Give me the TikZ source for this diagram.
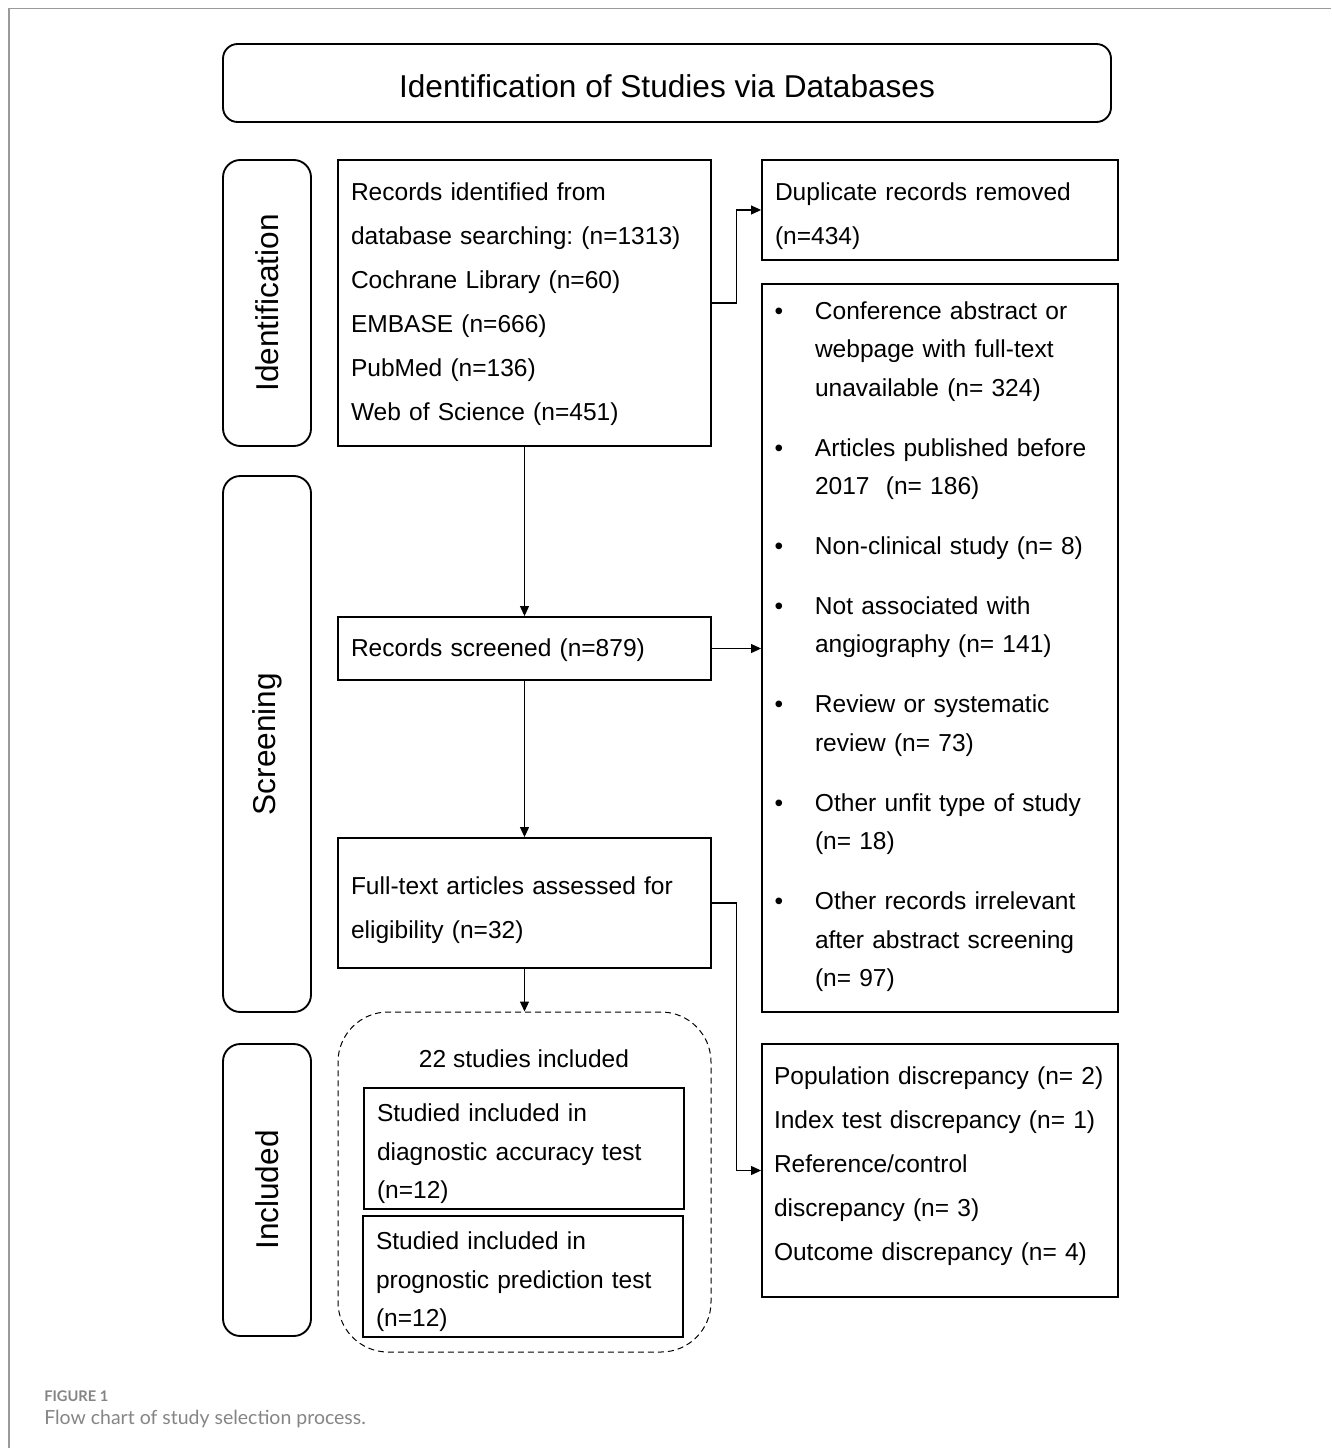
\documentclass[tikz,border=0pt]{standalone}
\usepackage{fontspec}
\setmainfont{Liberation Sans}
\newfontfamily\capfont{Lato}
\usetikzlibrary{arrows.meta}
\definecolor{framegray}{HTML}{9A9A9A}
\definecolor{capgray}{HTML}{858585}
\frenchspacing
\newcommand\bul{\leavevmode\llap{\textbullet\hspace{23.8pt}}}
\newcommand\fst[1]{\rule{0pt}{#1}}
\newcommand\lst[1]{\rule[-#1]{0pt}{#1}}
\begin{document}
\begin{tikzpicture}[x=0.75pt,y=-0.75pt,
  bx/.style={draw, line width=1.4pt, inner xsep=9.75pt, inner ysep=0pt, align=left,
    font=\fontsize{18.4}{33}\selectfont},
  bxs/.style={bx, font=\fontsize{18.4}{28.9}\selectfont},
  side/.style={draw, line width=1.4pt, rounded corners=13pt, rotate=90, minimum height=66pt,
    inner sep=0pt, font=\fontsize{23.7}{28}\selectfont},
  arr/.style={line width=0.8pt, -{Triangle[length=7.5pt,width=6.75pt]}},
  capt/.style={anchor=base west, inner sep=0pt, text=capgray}
]
\useasboundingbox (0,0) rectangle (1331,1448);
\draw[framegray, line width=1pt] (9,1448) -- (9,8.5) -- (1331,8.5);

% title
\node[draw, line width=1.4pt, rounded corners=11pt, minimum width=666pt, minimum height=58.5pt,
  font=\fontsize{23.7}{28}\selectfont, text depth=0pt, text height=21.5pt] (title) at (667,83) {Identification of Studies via Databases};

% side labels
\node[side, minimum width=214.5pt] (idl) at (267,303) {Identification};
\node[side, minimum width=402pt] (scl) at (267,744) {Screening};
\node[side, minimum width=219pt] (inl) at (267,1190) {Included};

% main boxes
\node[bx, text width=260.25pt, minimum height=214.5pt] (rec) at (524.5,303)
  {\fst{19.2pt}Records identified from\\database searching: (n=1313)\\Cochrane Library (n=60)\\EMBASE (n=666)\\PubMed (n=136)\\Web of Science (n=451)\lst{7.5pt}};
\node[bx, text width=247.5pt, minimum height=75pt] (dup) at (940,210)
  {\fst{26.7pt}Duplicate records removed\\(n=434)\lst{7.5pt}};
\node[bxs, text width=247.5pt, minimum height=546pt] (exl) at (940,648)
  {\leftskip=30pt
   \bul\fst{19.2pt}Conference abstract or\\webpage with full-text\\unavailable (n= 324)\\[16pt]
   \bul Articles published before\\2017\ \ (n= 186)\\[16pt]
   \bul Non-clinical study (n= 8)\\[16pt]
   \bul Not associated with\\angiography (n= 141)\\[16pt]
   \bul Review or systematic\\review (n= 73)\\[16pt]
   \bul Other unfit type of study\\(n= 18)\\[16pt]
   \bul Other records irrelevant\\after abstract screening\\(n= 97)\lst{12pt}\par};
\node[bx, text width=260.25pt, minimum height=47.25pt] (scr) at (524.5,648.5)
  {\fst{19.95pt}Records screened (n=879)\lst{7.5pt}};
\node[bx, text width=260.25pt, minimum height=97.5pt] (ft) at (524.5,903)
  {\fst{28.2pt}Full-text articles assessed for\\eligibility (n=32)\lst{7.5pt}};

% included group
\node[draw, line width=0.75pt, dash pattern=on 4.5pt off 3pt, rounded corners=37.5pt,
  minimum width=279.75pt, minimum height=255pt] (inc) at (524.5,1182) {};
\node[font=\fontsize{18.4}{28.9}\selectfont, inner sep=0pt] (inct) at (524,1059) {22 studies included};
\node[bxs, text width=220.5pt, minimum height=89.25pt] (inc1) at (524,1148.5)
  {\fst{25.2pt}Studied included in\\diagnostic accuracy test\\(n=12)\lst{7.5pt}};
\node[bxs, text width=220.5pt, minimum height=89.25pt] (inc2) at (523,1276.5)
  {\fst{25.2pt}Studied included in\\prognostic prediction test\\(n=12)\lst{7.5pt}};

\node[bx, inner xsep=9pt, text width=249pt, minimum height=189.75pt] (dis) at (940,1170.5)
  {\fst{18.45pt}Population discrepancy (n= 2)\\Index test discrepancy (n= 1)\\Reference/control\\discrepancy (n= 3)\\Outcome discrepancy (n= 4)\lst{15pt}};

% connectors
\draw[arr] (rec.east) -- ++(25,0) |- (dup.west);
\draw[arr] (rec.south) -- (scr.north);
\draw[arr] (scr.east) -- (scr.east -| exl.west);
\draw[arr] (scr.south) -- (ft.north);
\draw[arr] (ft.south) -- (inc.north);
\draw[arr] (ft.east) -- ++(25,0) |- (dis.west);

% caption
\node[capt, font=\capfont\bfseries\fontsize{11}{13}\selectfont] (fig) at (44,1401) {FIGURE 1};
\node[capt, font=\capfont\fontsize{14.6}{17}\selectfont] (cap) at (44,1424) {Flow chart of study selection process.};
\end{tikzpicture}
\end{document}
